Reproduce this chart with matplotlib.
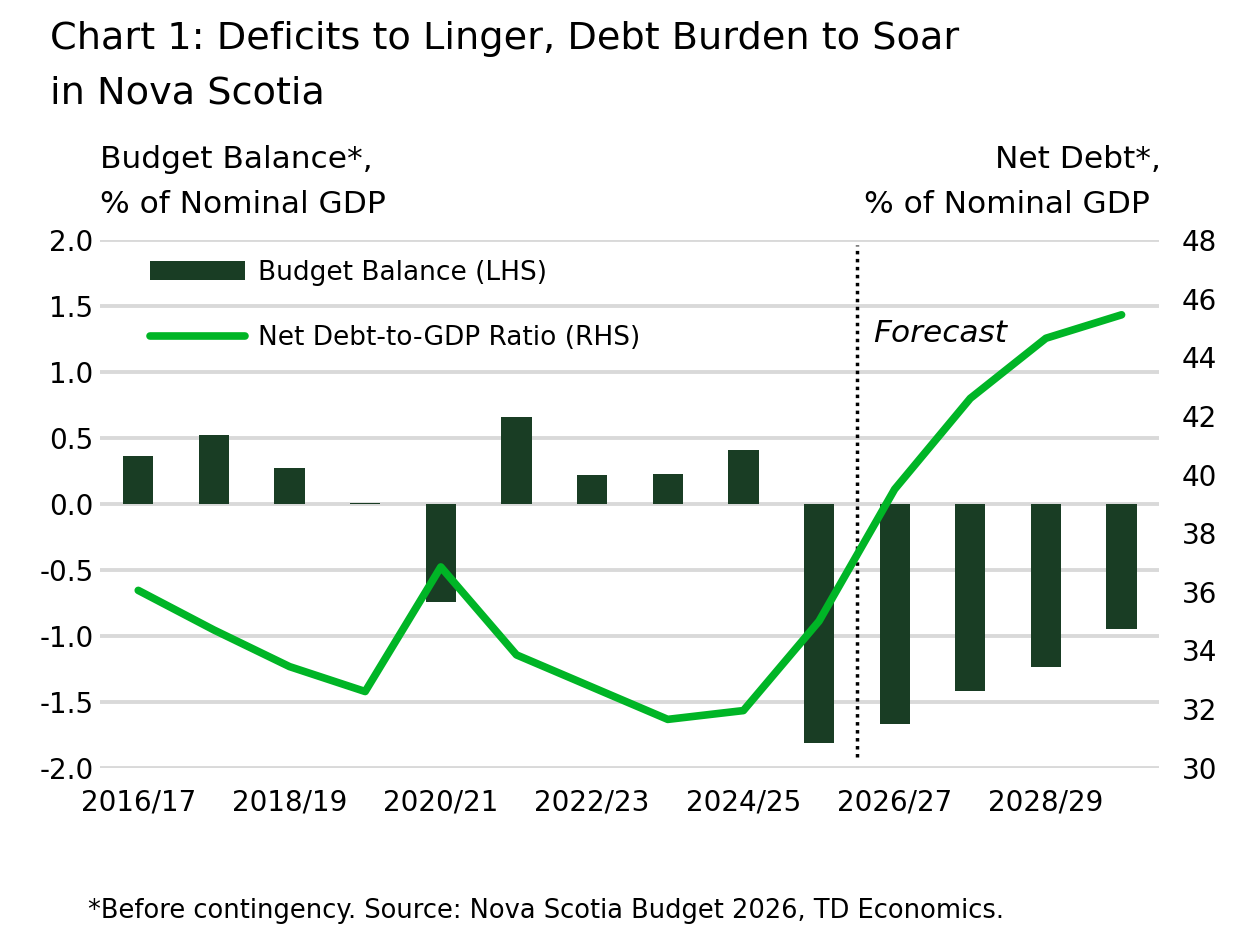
import matplotlib
matplotlib.use("Agg")
import matplotlib.pyplot as plt
from matplotlib.patches import Patch
from matplotlib.lines import Line2D

plt.rcParams['font.family'] = ['DejaVu Sans']
plt.rcParams['axes.unicode_minus'] = False

years = ['2016/17', '2017/18', '2018/19', '2019/20', '2020/21', '2021/22', '2022/23',
         '2023/24', '2024/25', '2025/26', '2026/27', '2027/28', '2028/29', '2029/30']
balance = [0.36, 0.52, 0.27, 0.01, -0.74, 0.66, 0.22, 0.23, 0.41, -1.81, -1.67, -1.42, -1.24, -0.95]
net_debt = [36.05, 34.7, 33.45, 32.6, 36.85, 33.85, 32.75, 31.65, 31.95, 35.0, 39.5, 42.6, 44.65, 45.45]
left_ticks = [-2.0, -1.5, -1.0, -0.5, 0.0, 0.5, 1.0, 1.5, 2.0]
right_ticks = [30, 32, 34, 36, 38, 40, 42, 44, 46, 48]

bar_col = '#193d24'
line_col = '#00b526'
grid_col = '#d9d9d9'

fig = plt.figure(figsize=(12.4, 9.25), dpi=100)
ax = fig.add_axes([0.081, 0.170, 0.854, 0.5705])
ax2 = ax.twinx()

x = list(range(len(years)))
ax.bar(x, balance, width=0.4, color=bar_col, zorder=3)
ax2.plot(x, net_debt, color=line_col, lw=5.5, solid_capstyle='round', solid_joinstyle='round', zorder=4)

ax.set_xlim(-0.5, 13.5)
ax.set_ylim(-2, 2)
ax.set_yticks(left_ticks)
ax.set_yticklabels([f'{t:.1f}' for t in left_ticks])
ax2.set_ylim(30, 48)
ax2.set_yticks(right_ticks)

ax.set_xticks(x[::2])
ax.set_xticklabels(years[::2])

for a in (ax, ax2):
    for s in a.spines.values():
        s.set_visible(False)
ax.grid(axis='y', color=grid_col, lw=2.8, zorder=0)
ax.set_axisbelow(True)
ax.tick_params(axis='y', length=0, labelsize=20, pad=5)
ax.tick_params(axis='x', length=0, labelsize=20, pad=15)
ax2.tick_params(axis='y', length=0, labelsize=20, pad=16)

ax.axvline(9.5, ymin=0.02, ymax=0.99, color='black', ls=(0, (1, 1.3)), lw=2.5, zorder=5)
ax.text(9.72, 1.29, 'Forecast', fontsize=22.5, style='italic', va='center', ha='left')

handles = [Patch(facecolor=bar_col), Line2D([0], [0], color=line_col, lw=5.5, solid_capstyle='round')]
ax.legend(handles, ['Budget Balance (LHS)', 'Net Debt-to-GDP Ratio (RHS)'],
          loc='upper left', bbox_to_anchor=(0.024, 1.008), frameon=False, fontsize=19,
          handlelength=3.6, handleheight=0.7, handletextpad=0.5, labelspacing=1.5)

fig.text(0.040, 1 - 49 / 925, 'Chart 1: Deficits to Linger, Debt Burden to Soar',
         fontsize=27.5, va='baseline', ha='left')
fig.text(0.040, 1 - 103 / 925, 'in Nova Scotia', fontsize=27.5, va='baseline', ha='left')
fig.text(0.081, 1 - 168 / 925, 'Budget Balance*,', fontsize=22.5, va='baseline', ha='left')
fig.text(0.081, 1 - 213 / 925, '% of Nominal GDP', fontsize=22.5, va='baseline', ha='left')
fig.text(0.936, 1 - 168 / 925, 'Net Debt*,', fontsize=22.5, va='baseline', ha='right')
fig.text(0.927, 1 - 213 / 925, '% of Nominal GDP', fontsize=22.5, va='baseline', ha='right')
fig.text(0.071, 1 - 918 / 925, '*Before contingency. Source: Nova Scotia Budget 2026, TD Economics.',
         fontsize=18.5, va='baseline', ha='left')

fig.savefig('out.png', dpi=100)
